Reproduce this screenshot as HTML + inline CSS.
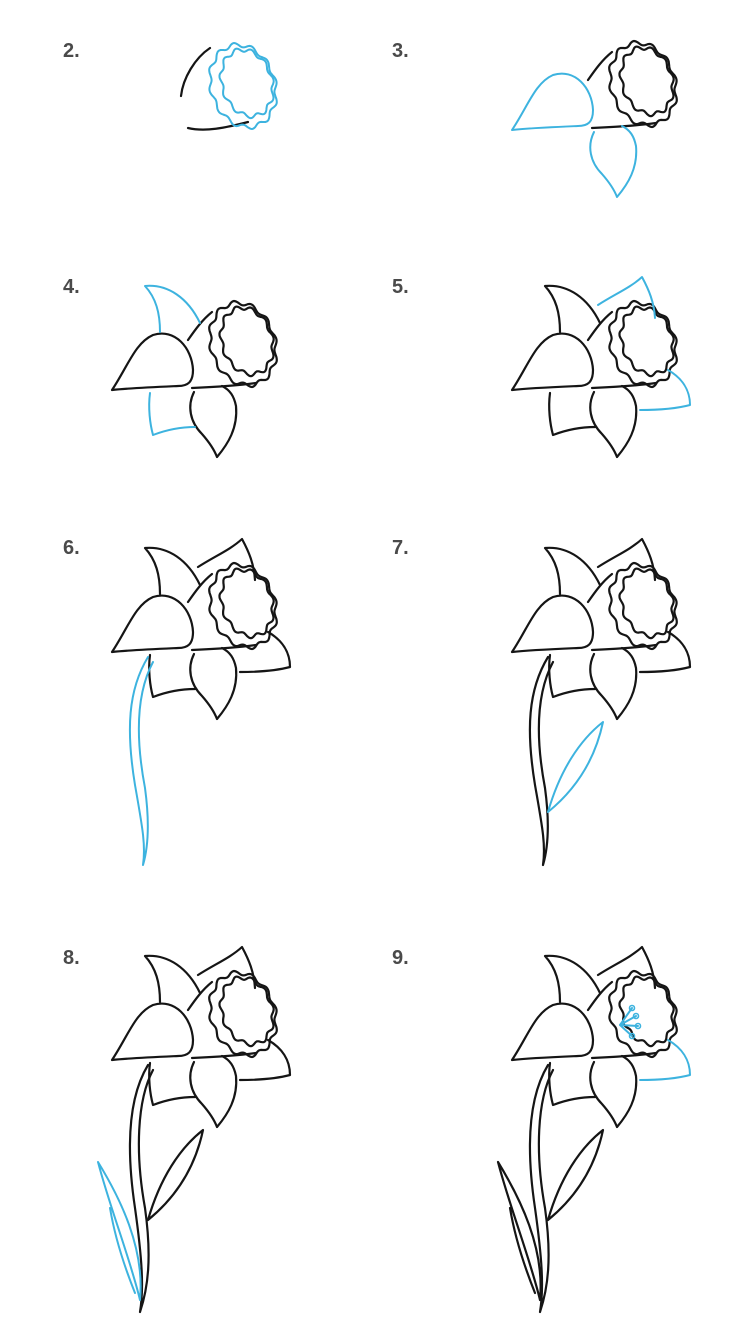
<!DOCTYPE html>
<html><head><meta charset="utf-8"><style>
html,body{margin:0;padding:0;background:#fff;}
svg{display:block;}
text{font-family:"Liberation Sans",sans-serif;font-weight:bold;font-size:20px;fill:#4a4a4a;}
path,ellipse{fill:none;stroke-linecap:round;stroke-linejoin:round;}
.k{stroke:#151515;stroke-width:2.2;}
.b{stroke:#3db3df;stroke-width:2;}
</style></head><body>
<svg id="s" width="736" height="1331" viewBox="0 0 736 1331" xmlns="http://www.w3.org/2000/svg">
<text x="63" y="57">2.</text><text x="392" y="57">3.</text>
<text x="63" y="293">4.</text><text x="392" y="293">5.</text>
<text x="63" y="554">6.</text><text x="392" y="554">7.</text>
<text x="63" y="964">8.</text><text x="392" y="964">9.</text>
</svg>
<script>
function wavy(cx,cy,rx,ry,rot,amp,n){var d="",N=180,r=rot*Math.PI/180;for(var i=0;i<=N;i++){var t=i/N*2*Math.PI;var f=1+amp*Math.sin(n*t);var x=rx*f*Math.cos(t),y=ry*f*Math.sin(t);var X=cx+x*Math.cos(r)-y*Math.sin(r),Y=cy+x*Math.sin(r)+y*Math.cos(r);d+=(i?"L":"M")+X.toFixed(1)+","+Y.toFixed(1);}return d+"Z";}
var P={
front:"M512,652 C528,628 535,605 553,597 C575,590 592,610 593,632 C593,644 588,648 578,648 C555,649 530,650 512,652Z",
topL:"M545,548 C568,546 588,560 600,585 M545,548 C556,560 560,575 560,594",
topR:"M598,567 C615,556 630,550 642,539 C649,552 654,564 655,580",
cup:"M588,602 C595,592 602,582 612,574 M592,650 C615,649 635,648 656,645",
crownO:wavy(643,606,32,42,-18,0.05,12),
crownI:wavy(647,603,25,34,-18,0.06,11),
right:"M668,632 C682,640 690,652 690,667 C675,671 655,672 640,672",
bmid:"M594,654 C587,668 590,684 602,696 C609,704 614,711 617,719 C628,706 638,690 636,668 C634,658 630,652 622,648",
bleft:"M550,655 C548,670 550,686 553,697 C566,692 580,689 595,689",
stem:"M548,657 C528,690 526,730 535,785 C542,825 546,845 543,865 M553,662 C537,692 535,735 545,788 C550,825 548,848 543,865",
leaf:"M548,812 C560,770 580,740 603,722 C595,760 575,790 548,812",
stem2:"M548,657 C528,690 526,740 535,800 C542,850 544,880 540,904 M553,662 C537,692 535,745 545,800 C552,850 548,880 540,904",
leafL:"M540,892 C530,850 510,800 498,754 C520,790 545,840 540,892 M510,800 C515,830 525,860 535,885",
stam:"M620,617 L632,600 M620,617 L636,608 M620,617 L638,618 M620,617 L632,628"
};
var s=document.getElementById("s");
function add(key,dx,dy,cls){var e=document.createElementNS("http://www.w3.org/2000/svg","path");e.setAttribute("d",P[key]);e.setAttribute("class",cls);e.setAttribute("transform","translate("+dx+","+dy+")");s.appendChild(e);}
function dots(dx,dy){[[632,600],[636,608],[638,618],[632,628]].forEach(function(p){var c=document.createElementNS("http://www.w3.org/2000/svg","circle");c.setAttribute("cx",p[0]+dx);c.setAttribute("cy",p[1]+dy);c.setAttribute("r",2.5);c.setAttribute("fill","none");c.setAttribute("stroke","#3db3df");c.setAttribute("stroke-width","1.6");s.appendChild(c);});}
// step 2
var e=document.createElementNS("http://www.w3.org/2000/svg","path");e.setAttribute("d","M210,48 C195,58 183,78 181,96 M188,128 C205,132 225,128 248,122");e.setAttribute("class","k");s.appendChild(e);
add("crownO",-400,-520,"b");add("crownI",-400,-520,"b");
// step 3
var R=-522;["cup","crownO","crownI"].forEach(function(k){add(k,0,R,"k");});
add("front",0,R,"b");add("bmid",0,R,"b");
// step 4
R=-262;["cup","crownO","crownI","front","bmid"].forEach(function(k){add(k,-400,R,"k");});
add("topL",-400,R,"b");add("bleft",-400,R,"b");
// step 5
["cup","crownO","crownI","front","bmid","topL","bleft"].forEach(function(k){add(k,0,R,"k");});
add("topR",0,R,"b");add("right",0,R,"b");
var flower=["cup","crownO","crownI","front","bmid","topL","bleft","topR","right"];
// step 6
flower.forEach(function(k){add(k,-400,0,"k");});add("stem",-400,0,"b");
// step 7
flower.forEach(function(k){add(k,0,0,"k");});add("stem",0,0,"k");add("leaf",0,0,"b");
// step 8
flower.forEach(function(k){add(k,-400,408,"k");});add("stem2",-400,408,"k");add("leaf",-400,408,"k");add("leafL",-400,408,"b");
// step 9
flower.forEach(function(k){if(k!="right")add(k,0,408,"k");});add("right",0,408,"b");
add("stem2",0,408,"k");add("leaf",0,408,"k");add("leafL",0,408,"k");add("stam",0,408,"b");dots(0,408);
</script>
</body></html>
